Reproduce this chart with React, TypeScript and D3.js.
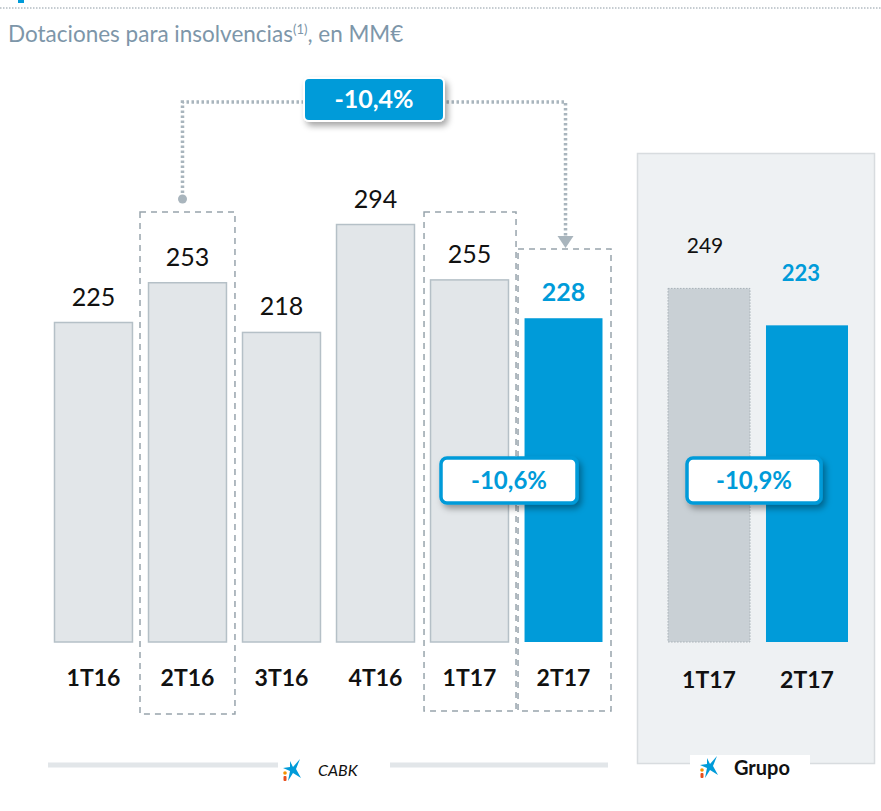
import React from 'react'
import * as d3 from 'd3'

const CABK_CATS = ['1T16', '2T16', '3T16', '4T16', '1T17', '2T17']
const CABK_VALUES = [225, 253, 218, 294, 255, 228]
const GRUPO_CATS = ['1T17', '2T17']
const GRUPO_VALUES = [249, 223]
const HIGHLIGHT_BOXES = ['2T16', '1T17', '2T17']
const BADGE_TOTAL = '-10,4%'
const BADGE_CABK = '-10,6%'
const BADGE_GRUPO = '-10,9%'

const BLUE = '#009bd9'
const FONT = "Lato, 'Open Sans', sans-serif"

function Logo({ x, y }: { x: number; y: number }) {
  // rough caixabank star
  return (
    <g transform={`translate(${x},${y})`}>
      <path d="M7,-9 L10,-3 L17,-11 L13,-1 L18,8 L10,3 L5,11 L7,1 L0,-2 L7,-3 Z" fill={BLUE} />
      <circle cx={2} cy={3} r={1.8} fill="#f39200" />
      <rect x={0.5} y={6} width={3} height={5} rx={1} fill="#e94e1b" />
    </g>
  )
}

export default function App() {
  const y = d3.scaleLinear().domain([0, 300]).range([642, 216])
  const x = d3.scaleBand().domain(CABK_CATS).range([54, 603]).paddingInner(0.16)
  const xg = d3.scaleBand().domain(GRUPO_CATS).range([668, 848]).paddingInner(0.163)
  const bw = x.bandwidth()
  const step = x.step()

  const cx = (c: string) => (x(c) as number) + bw / 2
  const boxTop: Record<string, number> = { '2T16': 212, '1T17': 212, '2T17': 249 }
  const boxBottom: Record<string, number> = { '2T16': 714, '1T17': 711, '2T17': 711 }

  const fromX = cx('2T16') - 5
  const toX = cx('2T17') + 2
  const lineY = 102

  return (
    <svg width={881} height={811} style={{ display: 'block', position: 'absolute', left: 0, top: 0 }}>
      <defs>
        <filter id="sh" x="-20%" y="-20%" width="150%" height="170%">
          <feDropShadow dx="3" dy="4" stdDeviation="3" floodColor="#000" floodOpacity="0.35" />
        </filter>
      </defs>
      <rect width={881} height={811} fill="#fff" />
      {/* top rule */}
      <line x1={0} x2={881} y1={8} y2={8} stroke="#8c99a3" strokeWidth={1} strokeDasharray="1.5,1.5" />
      <rect x={18} y={0} width={6} height={3} fill={BLUE} />
      <text x={8} y={42} fontFamily={FONT} fontSize={22.5} fill="#7d96a9">
        Dotaciones para insolvencias
        <tspan fontSize={13} dy={-8}>(1)</tspan>
        <tspan dy={8}>, en MM€</tspan>
      </text>

      {/* Grupo panel */}
      <rect x={637.5} y={153.5} width={237} height={610} fill="#eef1f3" stroke="#d8dcdf" strokeWidth={1.5} />

      {/* CABK bars */}
      {CABK_CATS.map((c, i) => {
        const last = i === CABK_CATS.length - 1
        return (
          <g key={c}>
            <rect
              x={(x(c) as number) + 0.5}
              y={y(CABK_VALUES[i])}
              width={bw - 1}
              height={y(0) - y(CABK_VALUES[i])}
              fill={last ? BLUE : '#e2e6e9'}
              stroke={last ? 'none' : '#b5c0c7'}
              strokeWidth={1.5}
            />
            <text
              x={cx(c)}
              y={y(CABK_VALUES[i]) - 17}
              textAnchor="middle"
              fontFamily={FONT}
              fontSize={25}
              fontWeight={last ? 700 : 400}
              fill={last ? BLUE : '#111'}
            >
              {CABK_VALUES[i]}
            </text>
            <text x={cx(c)} y={686} textAnchor="middle" fontFamily={FONT} fontSize={23} fontWeight={700} fill="#111">
              {c}
            </text>
          </g>
        )
      })}

      {/* dashed highlight boxes */}
      {HIGHLIGHT_BOXES.map((c) => {
        const x0 = (x(c) as number) - (c === '2T16' ? 8 : 6)
        const w = bw + (c === '2T16' ? 16 : 12) + (c === '2T17' ? 2 : 0)
        return (
          <rect
            key={c}
            x={x0}
            y={boxTop[c]}
            width={c === '1T17' ? step - 2 : w}
            height={boxBottom[c] - boxTop[c]}
            fill="none"
            stroke="#98a4ac"
            strokeWidth={1.5}
            strokeDasharray="6,5"
          />
        )
      })}

      {/* connector */}
      <path
        d={`M${fromX},198 V${lineY} H${toX} V238`}
        fill="none"
        stroke="#a9b5bd"
        strokeWidth={3.5}
        strokeDasharray="2.5,2.5"
      />
      <circle cx={fromX} cy={199} r={4.5} fill="#a9b5bd" />
      <path d={`M${toX - 8},236 L${toX + 8},236 L${toX},248 Z`} fill="#a9b5bd" />
      <g filter="url(#sh)">
        <rect x={304} y={78} width={140} height={43} rx={5} fill={BLUE} stroke="#fff" strokeWidth={2} />
      </g>
      <text x={374} y={108} textAnchor="middle" fontFamily={FONT} fontSize={25} fontWeight={700} fill="#fff">
        {BADGE_TOTAL}
      </text>

      {/* CABK change badge */}
      <g filter="url(#sh)">
        <rect x={441} y={458} width={136} height={45} rx={6} fill="#fff" stroke={BLUE} strokeWidth={3.5} />
      </g>
      <text x={509} y={489} textAnchor="middle" fontFamily={FONT} fontSize={24} fontWeight={700} fill={BLUE}>
        {BADGE_CABK}
      </text>

      {/* Grupo bars */}
      {GRUPO_CATS.map((c, i) => {
        const last = i === GRUPO_CATS.length - 1
        const bx = xg(c) as number
        const gw = xg.bandwidth()
        return (
          <g key={'g' + c}>
            <rect
              x={bx}
              y={y(GRUPO_VALUES[i])}
              width={gw}
              height={y(0) - y(GRUPO_VALUES[i])}
              fill={last ? BLUE : '#c9d0d5'}
              stroke={last ? 'none' : '#a8b1b7'}
              strokeWidth={1}
              strokeDasharray="1.5,1.5"
            />
            <text
              x={bx + gw / 2 - (last ? 6 : 4)}
              y={y(GRUPO_VALUES[i]) - (last ? 44 : 35)}
              textAnchor="middle"
              fontFamily={FONT}
              fontSize={last ? 22 : 21}
              fontWeight={last ? 700 : 400}
              fill={last ? BLUE : '#111'}
            >
              {GRUPO_VALUES[i]}
            </text>
            <text x={bx + gw / 2} y={688} textAnchor="middle" fontFamily={FONT} fontSize={23} fontWeight={700} fill="#111">
              {c}
            </text>
          </g>
        )
      })}
      <g filter="url(#sh)">
        <rect x={687} y={458} width={134} height={45} rx={6} fill="#fff" stroke={BLUE} strokeWidth={3.5} />
      </g>
      <text x={754} y={489} textAnchor="middle" fontFamily={FONT} fontSize={24} fontWeight={700} fill={BLUE}>
        {BADGE_GRUPO}
      </text>

      {/* footers */}
      <line x1={48} x2={278} y1={765} y2={765} stroke="#e2e6e9" strokeWidth={5} />
      <line x1={390} x2={608} y1={765} y2={765} stroke="#e2e6e9" strokeWidth={5} />
      <Logo x={283} y={770} />
      <text x={318} y={776} fontFamily={FONT} fontSize={16} fontStyle="italic" fill="#111">
        CABK
      </text>
      <rect x={690} y={755} width={120} height={20} fill="#fff" />
      <Logo x={700} y={767} />
      <text x={734} y={775} fontFamily={FONT} fontSize={20} fontWeight={700} fill="#111">
        Grupo
      </text>
    </svg>
  )
}
